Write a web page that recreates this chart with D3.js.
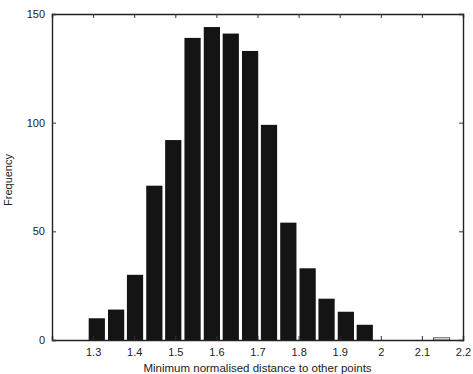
<!DOCTYPE html>
<html>
<head>
<meta charset="UTF-8">
<script src="https://cdn.jsdelivr.net/npm/d3@7"></script>
<style>
  body { margin: 0; background: #fff; }
  text { font-family: "Liberation Sans", Arial, sans-serif; fill: #222; }
</style>
</head>
<body>
<script>
// histogram bin centres (hist with 19 bins) and counts
var binCentres = [1.309, 1.356, 1.402, 1.449, 1.495, 1.542, 1.589, 1.635, 1.682, 1.728,
                  1.775, 1.822, 1.868, 1.915, 1.961, 2.008, 2.054, 2.101, 2.148];
var counts = [10, 14, 30, 71, 92, 139, 144, 141, 133, 99, 54, 33, 19, 13, 7, 0, 0, 0, 1];
var xTicks = [1.3, 1.4, 1.5, 1.6, 1.7, 1.8, 1.9, 2, 2.1, 2.2];
var yTicks = [0, 50, 100, 150];

var width = 473, height = 374;
var margin = { top: 14, right: 10, bottom: 34, left: 52 };

var svg = d3.select("body").append("svg")
  .attr("width", width)
  .attr("height", height);

var x = d3.scaleLinear().domain([1.2, 2.2]).range([margin.left, width - margin.right]);
var y = d3.scaleLinear().domain([0, 150]).range([height - margin.bottom, margin.top]);

var step = x(binCentres[1]) - x(binCentres[0]);
var barW = step * 0.84;

svg.selectAll("rect.bar")
  .data(counts)
  .enter()
  .append("rect")
  .attr("class", "bar")
  .attr("x", function(d, i) { return x(binCentres[i]) - barW / 2; })
  .attr("y", function(d) { return y(d); })
  .attr("width", barW)
  .attr("height", function(d) { return y(0) - y(d); })
  .attr("fill", function(d) { return d < 2 ? "#fff" : "#141414"; })
  .attr("stroke", function(d) { return d < 2 && d > 0 ? "#333" : "none"; })
  .attr("stroke-width", 0.8);

// axes with inward ticks, plus mirrored box
var tl = 4;
svg.append("g")
  .attr("transform", "translate(0," + y(0) + ")")
  .call(d3.axisBottom(x).tickValues(xTicks).tickSize(-tl).tickPadding(8)
    .tickFormat(function(d) { return d3.format("")(d); }));

svg.append("g")
  .attr("transform", "translate(0," + y(150) + ")")
  .call(d3.axisTop(x).tickValues(xTicks).tickSize(-tl).tickFormat(""));

svg.append("g")
  .attr("transform", "translate(" + x(1.2) + ",0)")
  .call(d3.axisLeft(y).tickValues(yTicks).tickSize(-tl).tickPadding(7));

svg.append("g")
  .attr("transform", "translate(" + x(2.2) + ",0)")
  .call(d3.axisRight(y).tickValues(yTicks).tickSize(-tl).tickFormat(""));

svg.selectAll(".domain").attr("stroke", "#222").attr("stroke-width", 1.4);
svg.selectAll(".tick line").attr("stroke", "#333");
svg.selectAll(".tick text").style("font-size", "11px")
  .style("font-family", "Liberation Sans, Arial, sans-serif").attr("fill", "#222");

svg.append("text")
  .attr("x", (x(1.2) + x(2.2)) / 2)
  .attr("y", 372)
  .attr("text-anchor", "middle")
  .style("font-size", "11.5px")
  .text("Minimum normalised distance to other points");

svg.append("text")
  .attr("transform", "translate(12,180) rotate(-90)")
  .attr("text-anchor", "middle")
  .style("font-size", "11px")
  .text("Frequency");
</script>
</body>
</html>
